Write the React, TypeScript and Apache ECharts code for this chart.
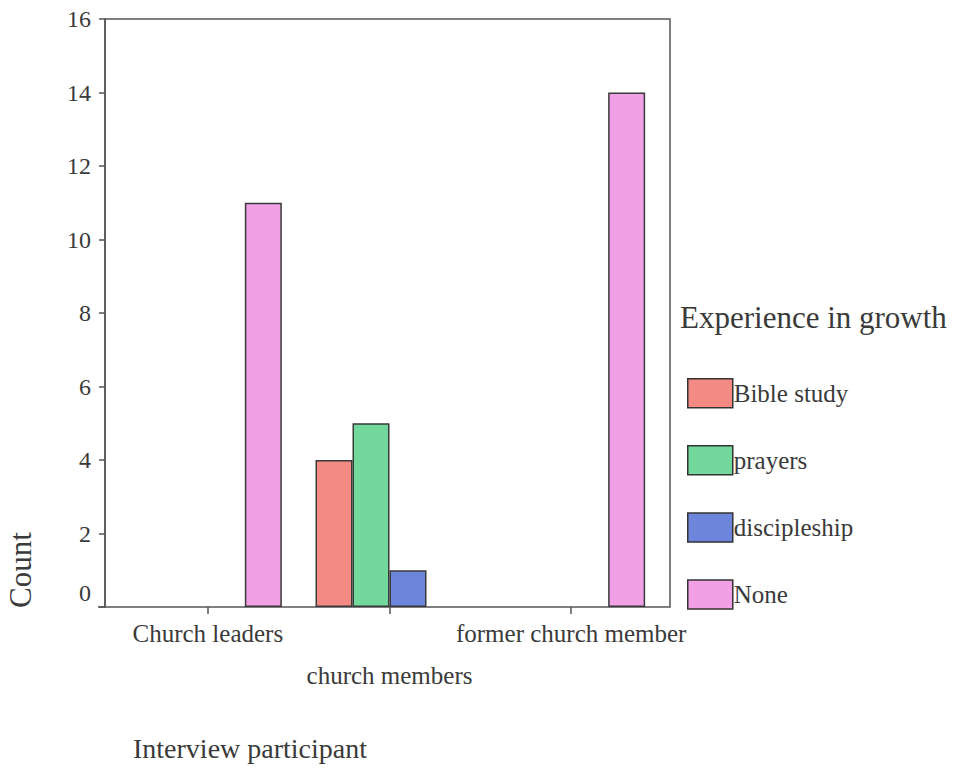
import React, { useEffect, useRef } from "react";
import * as echarts from "echarts";

const categories = ["Church leaders", "church members", "former church member"];
const seriesNames = ["Bible study", "prayers", "discipleship", "None"];
const bibleStudy = [0, 4, 0];
const prayers = [0, 5, 0];
const discipleship = [0, 1, 0];
const none = [11, 0, 14];
const seriesColors = ["#f38a84", "#72d89b", "#6d86dc", "#f2a0e6"];
const yMin = 0;
const yMax = 16;
const yInterval = 2;

const FONT = "Liberation Serif";
const TEXT = "#3a3a3a";

export default function App() {
  const ref = useRef<HTMLDivElement>(null);
  useEffect(() => {
    document.body.style.margin = "0";
    const chart = echarts.init(ref.current!, null, { renderer: "svg" });
    const values = [bibleStudy, prayers, discipleship, none];
    const option: any = {
      animation: false,
      backgroundColor: "#ffffff",
      textStyle: { fontFamily: FONT },
      grid: [
        { left: 105, top: 19, width: 565, height: 588, show: true, borderColor: "#555", borderWidth: 1.5, backgroundColor: "transparent" },
        { left: 117, top: 19, width: 545, height: 588 },
      ],
      xAxis: [
        { type: "value", gridIndex: 0, show: false, min: 0, max: 1 },
        {
          type: "category",
          gridIndex: 1,
          data: categories,
          axisLine: { show: false },
          axisTick: { show: true, alignWithLabel: true, length: 7, lineStyle: { color: "#555", width: 1.5 } },
          axisLabel: {
            interval: 0,
            margin: 5,
            fontSize: 25,
            fontFamily: FONT,
            color: TEXT,
            lineHeight: 42,
            formatter: (v: string, i: number) => (i % 2 === 1 ? "\n" + v : v),
          },
        },
      ],
      yAxis: [
        {
          type: "value",
          gridIndex: 0,
          min: yMin,
          max: yMax,
          interval: yInterval,
          splitLine: { show: false },
          axisLine: { show: true, lineStyle: { color: "#555", width: 1.5 } },
          axisTick: { show: true, length: 6, lineStyle: { color: "#555", width: 1.5 } },
          axisLabel: {
            margin: 14,
            fontSize: 24,
            fontFamily: FONT,
            color: TEXT,
            formatter: (v: number) => (v === 0 ? "{z|0}" : String(v)),
            rich: { z: { fontSize: 24, fontFamily: FONT, color: TEXT, padding: [0, 0, 28, 0] } },
          },
        },
        { type: "value", gridIndex: 1, min: yMin, max: yMax, interval: yInterval, show: false },
      ],
      legend: {
        orient: "vertical",
        left: 687,
        top: 378,
        padding: 0,
        itemWidth: 45,
        itemHeight: 29,
        itemGap: 36.6,
        icon: "rect",
        data: seriesNames,
        itemStyle: { borderColor: "#333", borderWidth: 1.5 },
        textStyle: { fontSize: 25, fontFamily: FONT, color: TEXT, padding: [0, 0, 0, -4] },
      },
      series: seriesNames.map((name, i) => ({
        name,
        type: "bar",
        xAxisIndex: 1,
        yAxisIndex: 1,
        data: values[i].map((v) => (v === 0 ? "-" : v)),
        barWidth: 37,
        barGap: "0%",
        itemStyle: { color: seriesColors[i], borderColor: "#3a3a3a", borderWidth: 1.5 },
      })),
      graphic: [
        { type: "line", shape: { x1: 98, y1: 607, x2: 105, y2: 607 }, style: { stroke: "#555", lineWidth: 1.5 } },
        { type: "text", left: 680, top: 302, style: { text: "Experience in growth", fontSize: 31, fontFamily: FONT, fill: TEXT } },
        { type: "text", x: 20, y: 570, rotation: Math.PI / 2, style: { text: "Count", fontSize: 31, fontFamily: FONT, fill: TEXT, align: "center", verticalAlign: "middle" } },
        { type: "text", x: 133, y: 748, style: { text: "Interview participant", fontSize: 28, fontFamily: FONT, fill: TEXT, verticalAlign: "middle" } },
      ],
    };
    chart.setOption(option);
    return () => chart.dispose();
  }, []);
  return <div ref={ref} style={{ width: 961, height: 771 }} />;
}
